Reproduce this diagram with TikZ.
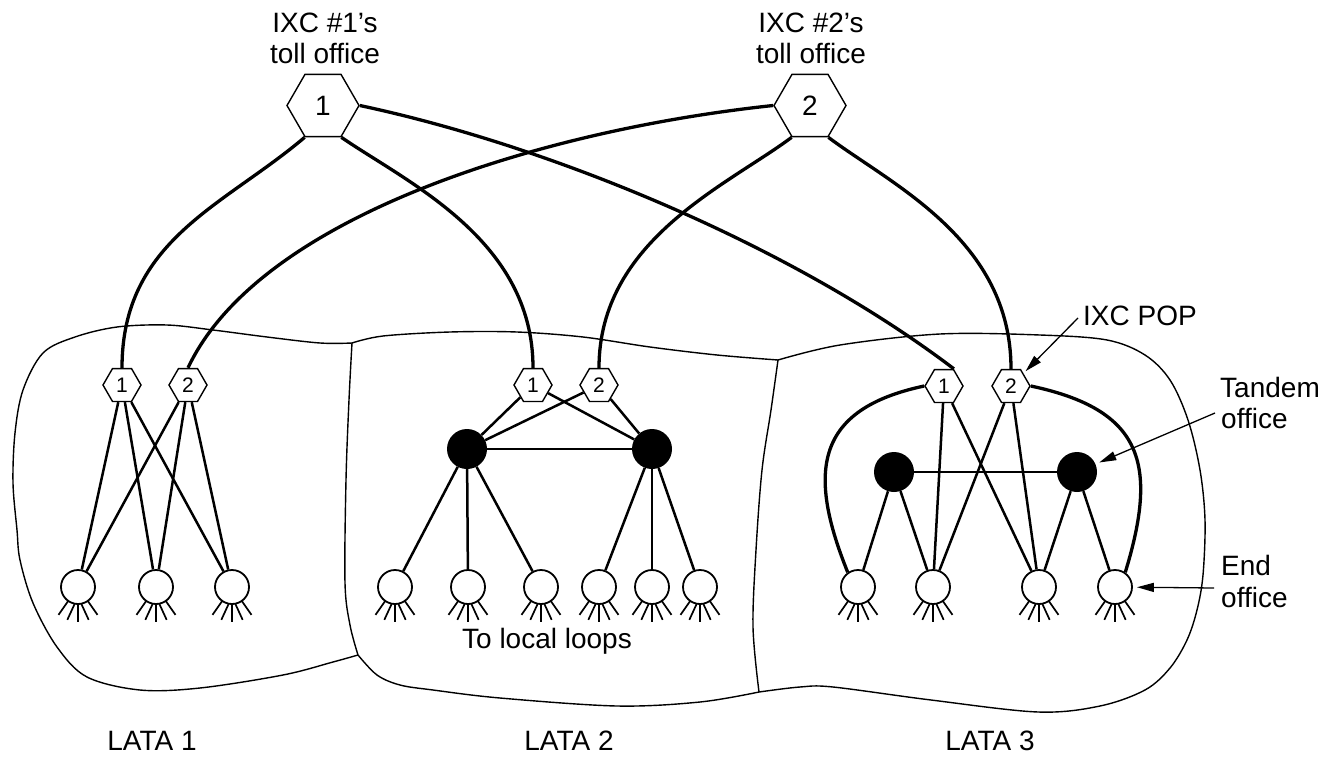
\documentclass[tikz,border=0pt]{standalone}
\usepackage{fontspec}
\setmainfont{Liberation Sans}
\usetikzlibrary{shapes.geometric,arrows.meta,calc}
\begin{document}
\begin{tikzpicture}[x=1pt,y=1pt,
  bnd/.style={line width=1.4pt},
  trunk/.style={line width=3.3pt},
  link/.style={line width=2.5pt},
  rayst/.style={line width=1.7pt},
  toll/.style={regular polygon, regular polygon sides=6, minimum size=72pt, inner sep=0pt, draw, line width=1.4pt, fill=white, font=\fontsize{28}{32}\selectfont},
  pop/.style={regular polygon, regular polygon sides=6, minimum size=38pt, inner sep=0pt, draw, line width=1.4pt, fill=white, font=\fontsize{21}{24}\selectfont},
  tandem/.style={circle, fill=black, minimum size=40pt, inner sep=0pt},
  endo/.style={circle, draw, line width=1.8pt, fill=white, minimum size=34pt, inner sep=0pt},
  lbl/.style={font=\fontsize{28}{32}\selectfont, inner sep=0pt},
  ptr/.style={line width=1.3pt, -{Triangle[length=17pt,width=9pt]}},
]
\fill[white] (0,0) rectangle (1331,-758);
\useasboundingbox (0,0) rectangle (1331,-758);

% LATA boundaries
\draw[bnd] plot[smooth,tension=0.55] coordinates {(352,-343) (320,-343) (267,-337) (213,-330) (167,-325) (117,-327) (75,-337) (43,-353) (23,-390) (15,-433) (13,-483) (17,-530) (20,-560) (33,-603) (57,-647) (87,-677) (140,-690) (200,-688) (283,-675) (333,-662) (358,-655)};
\draw[bnd] plot[smooth,tension=0.55] coordinates {(352,-343) (383,-336) (450,-332) (517,-332) (583,-337) (650,-347) (717,-355) (778,-360)};
\draw[bnd] plot[smooth,tension=0.55] coordinates {(778,-360) (840,-345) (940,-334) (1040,-335) (1107,-340) (1145,-355) (1170,-380) (1188,-420) (1200,-470) (1205,-520) (1203,-575) (1197,-610) (1187,-640) (1170,-668) (1145,-690) (1100,-706) (1038,-712) (931,-700) (833,-687) (800,-687) (759,-692)};
\draw[bnd] plot[smooth,tension=0.55] coordinates {(759,-692) (700,-702) (617,-706) (500,-698) (433,-690) (400,-685) (377,-675) (358,-655)};
\draw[bnd] plot[smooth,tension=0.55] coordinates {(352,-343) (349,-400) (346,-480) (345,-583) (350,-625) (358,-655)};
\draw[bnd] plot[smooth,tension=0.55] coordinates {(778,-360) (771,-410) (762,-470) (756,-550) (753,-627) (759,-692)};

% toll offices
\node[toll] (t1) at (323,-105.5) {1};
\node[toll] (t2) at (810,-105.5) {2};
% POPs
\node[pop] (l1p1) at (122,-385) {1};
\node[pop] (l1p2) at (188,-385) {2};
\node[pop] (l2p1) at (533,-385) {1};
\node[pop] (l2p2) at (599,-385) {2};
\node[pop] (l3p1) at (944,-386) {1};
\node[pop] (l3p2) at (1011,-386) {2};
% tandem offices
\node[tandem] (l2ta) at (467,-449) {};
\node[tandem] (l2tb) at (652,-449) {};
\node[tandem] (l3ta) at (894,-472) {};
\node[tandem] (l3tb) at (1077,-472) {};
% end offices
\node[endo] (l1e1) at (78,-587) {};
\node[endo] (l1e2) at (156,-587) {};
\node[endo] (l1e3) at (232,-587) {};
\node[endo] (l2e1) at (395,-587) {};
\node[endo] (l2e2) at (468,-587) {};
\node[endo] (l2e3) at (541,-587) {};
\node[endo] (l2e4) at (599,-587) {};
\node[endo] (l2e5) at (652,-587) {};
\node[endo] (l2e6) at (700,-587) {};
\node[endo] (l3e1) at (858,-587) {};
\node[endo] (l3e2) at (933,-587) {};
\node[endo] (l3e3) at (1039,-587) {};
\node[endo] (l3e4) at (1115,-587) {};

% rays to local loops
\foreach \n in {l1e1,l1e2,l1e3,l2e1,l2e2,l2e3,l2e4,l2e5,l2e6,l3e1,l3e2,l3e3,l3e4}{
  \draw[rayst] ($(\n)+(-55:17)$) -- ($(\n)+(-55:34)$);
  \draw[rayst] ($(\n)+(-125:17)$) -- ($(\n)+(-125:34)$);
  \draw[rayst] ($(\n)+(-79:17)$) -- ($(\n)+(-72:34.5)$);
  \draw[rayst] ($(\n)+(-101:17)$) -- ($(\n)+(-108:34.5)$);
  \draw[rayst] ($(\n)+(0,-17)$) -- ($(\n)+(0,-35)$);
}

% trunks from toll offices
\draw[trunk] (t1.-120) .. controls (224,-206) and (122,-240) .. (l1p1.north);
\draw[trunk] (t1.-60) .. controls (408,-183) and (533,-240) .. (l2p1.north);
\draw[trunk] (t1.0) .. controls (555,-147) and (795,-248) .. (l3p1.60);
\draw[trunk] (t2.180) .. controls (546,-129.5) and (260,-215) .. (l1p2.north);
\draw[trunk] (t2.-120) .. controls (728,-185) and (599,-240) .. (l2p2.north);
\draw[trunk] (t2.-60) .. controls (892,-185) and (1011,-240) .. (l3p2.north);

% LATA 1 links
\foreach \p in {l1p1,l1p2}{\foreach \e in {l1e1,l1e2,l1e3}{\draw[link] (\p) -- (\e);}}
% LATA 2 links
\foreach \p in {l2p1,l2p2}{\foreach \t in {l2ta,l2tb}{\draw[link] (\p) -- (\t);}}
\draw[link] (l2ta) -- (l2tb);
\foreach \e in {l2e1,l2e2,l2e3}{\draw[link] (l2ta) -- (\e);}
\foreach \e in {l2e4,l2e5,l2e6}{\draw[link] (l2tb) -- (\e);}
% LATA 3 links
\draw[link] (l3ta) -- (l3tb);
\draw[link] (l3ta) -- (l3e1);
\draw[link] (l3ta) -- (l3e2);
\draw[link] (l3tb) -- (l3e3);
\draw[link] (l3tb) -- (l3e4);
\foreach \p in {l3p1,l3p2}{\foreach \e in {l3e2,l3e3}{\draw[link] (\p) -- (\e);}}
\draw[trunk] (l3p1.180) to[out=192,in=112,looseness=1.4] (l3e1.125);
\draw[trunk] (l3p2.0) to[out=-12,in=73,looseness=1.4] (l3e4.55);

% labels
\node[lbl,anchor=base] (t1la) at (325,-32) {IXC \#1’s};
\node[lbl,anchor=base] (t1lb) at (325,-63) {toll office};
\node[lbl,anchor=base] (t2la) at (811,-32) {IXC \#2’s};
\node[lbl,anchor=base] (t2lb) at (811,-63) {toll office};
\node[lbl,anchor=base west] (popl) at (1083,-325) {IXC POP};
\node[lbl,anchor=base west] (tanla) at (1220,-397) {Tandem};
\node[lbl,anchor=base west] (tanlb) at (1221,-428) {office};
\node[lbl,anchor=base west] (endla) at (1221,-575) {End};
\node[lbl,anchor=base west] (endlb) at (1221,-607) {office};
\node[lbl,anchor=base west] (loops) at (462,-648) {To local loops};
\node[lbl,anchor=base] (lata1) at (152,-750) {LATA 1};
\node[lbl,anchor=base] (lata2) at (569,-750) {LATA 2};
\node[lbl,anchor=base] (lata3) at (990,-750) {LATA 3};

% pointer arrows
\coordinate (popA) at (1078,-318);
\coordinate (tanA) at (1215,-413);
\coordinate (endA) at (1214,-588);
\draw[ptr, shorten >=3pt] (popA) -- (l3p2);
\draw[ptr, shorten >=4pt] (tanA) -- (l3tb);
\draw[ptr, shorten >=4pt] (endA) -- (l3e4);
\end{tikzpicture}
\end{document}
